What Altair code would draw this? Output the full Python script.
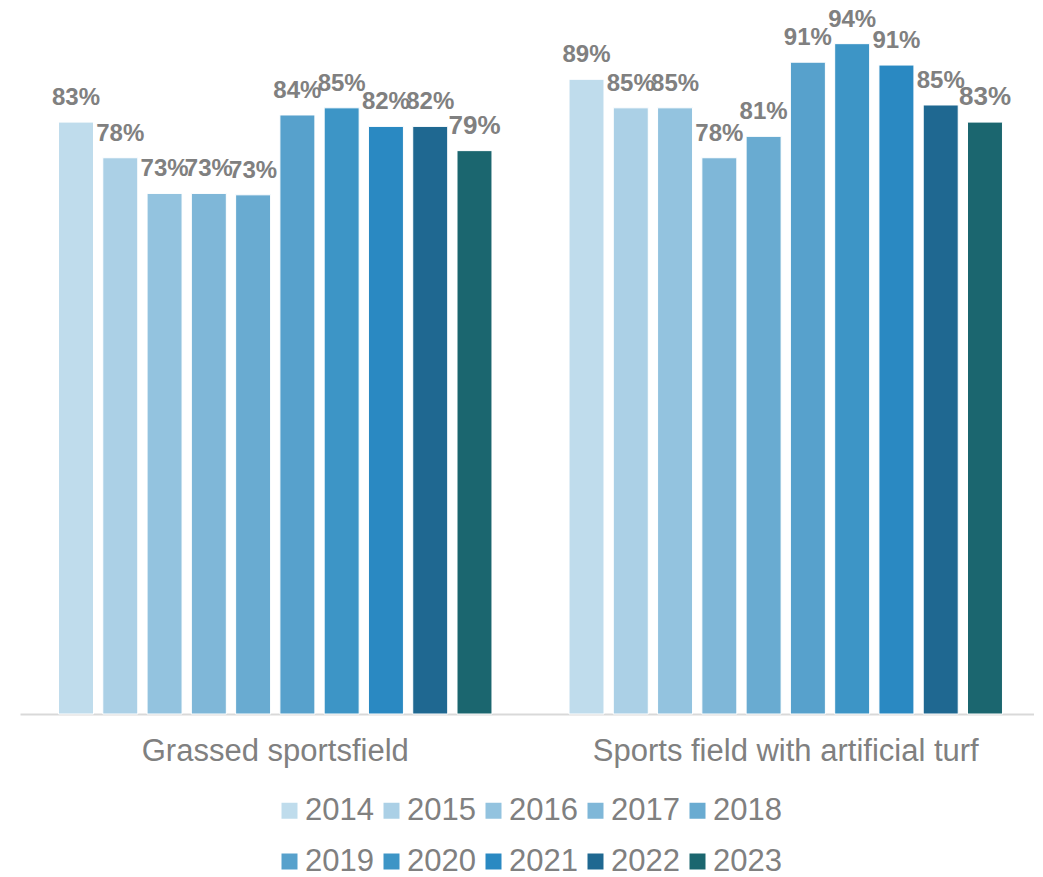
import altair as alt
import pandas as pd

categories = ["Grassed sportsfield", "Sports field with artificial turf"]
years = ["2014", "2015", "2016", "2017", "2018", "2019", "2020", "2021", "2022", "2023"]
grassed = [83.0, 78.0, 73.0, 73.0, 72.8, 84.0, 85.0, 82.4, 82.4, 79.0]
artificial = [89.0, 85.0, 85.0, 78.0, 81.0, 91.4, 94.0, 91.0, 85.4, 83.0]
colors = ["#bfdcec", "#abd0e6", "#93c3df", "#7fb7d8", "#69abd1",
          "#57a1cc", "#3d95c6", "#2a89c2", "#1f6891", "#1b666f"]

rows = []
for cat, vals in zip(categories, [grassed, artificial]):
    for yr, v in zip(years, vals):
        rows.append({"category": cat, "year": yr, "value": v})
df = pd.DataFrame(rows)

FONT = "Arial, Liberation Sans"
GRAY = "#808080"

x_enc = alt.X("category:N", sort=categories, title=None,
              scale=alt.Scale(paddingInner=0, paddingOuter=0, range=[0, 1021]),
              axis=alt.Axis(domainColor="#d9d9d9", domainWidth=2, ticks=False,
                            labelFontSize=31, labelColor=GRAY, labelFont=FONT,
                            labelLimit=0, labelAngle=0,
                            labelBaseline="alphabetic", labelPadding=46))
xo_enc = alt.XOffset("year:N", sort=years,
                     scale=alt.Scale(paddingInner=0.21, paddingOuter=0.87))
y_enc = alt.Y("value:Q", scale=alt.Scale(domain=[0, 99]), axis=None)

base = alt.Chart(df)

bars = base.mark_bar(stroke="white", strokeWidth=1).encode(
    x=x_enc, xOffset=xo_enc, y=y_enc,
    color=alt.Color("year:N", sort=years,
                    scale=alt.Scale(domain=years, range=colors),
                    legend=alt.Legend(title=None, orient="none", legendX=254, legendY=787,
                                      columns=5, direction="horizontal",
                                      symbolType="square", symbolSize=256,
                                      symbolStrokeWidth=0, labelFontSize=31,
                                      labelColor=GRAY, labelFont=FONT,
                                      labelOffset=0, columnPadding=2,
                                      rowPadding=19, padding=0)),
)

labels = base.mark_text(fontWeight="bold", font=FONT, color=GRAY, dy=-17,
                        baseline="alphabetic", align="center").transform_calculate(
    label="format(datum.value, '.0f') + '%'"
).encode(
    x=x_enc, xOffset=xo_enc, y=y_enc,
    text="label:N",
    size=alt.condition(alt.datum.year == "2023", alt.value(26), alt.value(24)),
)

chart = alt.layer(bars, labels).properties(
    width=1014, height=706,
    padding={"left": 12, "top": 0, "right": 0, "bottom": 163},
    autosize=alt.AutoSizeParams(type="none"),
).configure_view(stroke=None)

chart.save("out.html", embed_options={"renderer": "svg", "actions": False})
